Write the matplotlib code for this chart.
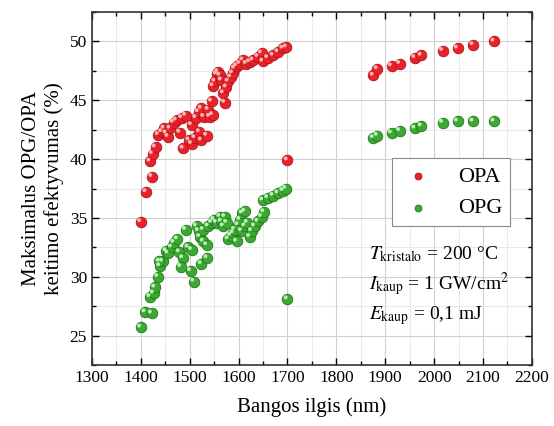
import numpy as np
import matplotlib
matplotlib.use('Agg')
import matplotlib.pyplot as plt
import matplotlib.ticker as ticker
from matplotlib.transforms import offset_copy

plt.rcParams['font.family'] = 'Liberation Serif'
plt.rcParams['mathtext.fontset'] = 'stix'

# OPA (red) points
opa_x = [1400, 1411, 1423, 1419, 1424, 1430, 1436, 1443, 1448, 1452, 1456, 1460, 1467, 1473,
         1484, 1492, 1480, 1487, 1504, 1499, 1504, 1511, 1513, 1518, 1524, 1520, 1524, 1535,
         1529, 1538, 1541, 1547, 1545, 1548, 1552, 1555, 1558, 1562, 1565, 1569, 1572, 1575,
         1579, 1584, 1588, 1592, 1596, 1603, 1609, 1616, 1623, 1630, 1640, 1647, 1650, 1660,
         1671, 1681, 1691, 1698, 1700,
         1876, 1884, 1913, 1930, 1961, 1974, 2018, 2048, 2080, 2123]
opa_y = [34.66, 37.2, 38.5, 39.8, 40.45, 41.0, 42.06, 42.3, 42.6, 42.2, 41.9, 42.6, 43.1, 43.3,
         43.5, 43.7, 42.25, 40.9, 42.9, 41.6, 41.3, 41.8, 43.5, 44.0, 44.3, 42.3, 41.6, 42.0,
         43.6, 44.2, 43.6, 43.75, 44.9, 46.2, 46.6, 47.2, 47.4, 47.1, 46.7, 45.6, 44.8, 46.1,
         46.6, 46.95, 47.3, 47.7, 47.9, 48.1, 48.4, 48.1, 48.25, 48.4, 48.7, 49.0, 48.3, 48.6,
         48.8, 49.1, 49.4, 49.5, 39.9,
         47.1, 47.65, 47.9, 48.1, 48.6, 48.8, 49.2, 49.4, 49.7, 50.0]

# OPG (green) points
opg_x = [1400, 1409, 1422, 1419, 1426, 1429, 1435, 1439, 1445, 1438, 1452, 1456, 1463, 1468,
         1475, 1479, 1486, 1482, 1492, 1497, 1504, 1502, 1509, 1514, 1518, 1521, 1528, 1535,
         1524, 1536, 1528, 1538, 1545, 1550, 1555, 1562, 1565, 1569, 1572, 1576, 1579, 1584,
         1589, 1592, 1596, 1599, 1603, 1608, 1613, 1606, 1613, 1618, 1623, 1627, 1633, 1640,
         1647, 1652, 1650, 1660, 1671, 1681, 1691, 1697, 1700,
         1876, 1884, 1913, 1930, 1961, 1974, 2018, 2048, 2080, 2123]
opg_y = [25.7, 27.0, 26.9, 28.3, 28.6, 29.1, 30.0, 30.9, 31.3, 31.3, 32.2, 32.0, 32.5, 32.9,
         33.2, 32.1, 31.6, 30.85, 34.0, 32.5, 32.3, 30.5, 29.6, 34.3, 33.9, 33.4, 33.0, 32.7,
         31.1, 31.6, 34.0, 34.3, 34.6, 34.85, 34.6, 35.1, 34.7, 34.3, 35.1, 34.6, 33.2, 33.5,
         33.7, 34.0, 33.0, 34.4, 34.85, 35.4, 35.55, 33.9, 34.3, 34.6, 33.4, 33.9, 34.3, 34.7,
         35.1, 35.5, 36.5, 36.7, 36.9, 37.1, 37.3, 37.5, 28.1,
         41.8, 42.0, 42.2, 42.4, 42.6, 42.8, 43.1, 43.2, 43.2, 43.2]

fig = plt.figure(figsize=(5.54, 4.26), dpi=100)
ax = fig.add_axes([0.166, 0.143, 0.794, 0.829])

hl = offset_copy(ax.transData, fig=fig, x=-1.3, y=1.3, units='points')

h_opa = ax.scatter(opa_x, opa_y, s=58, color='#e8222b', edgecolors='#b0141c',
                   linewidths=0.6, zorder=3, label='OPA')
ax.scatter(opa_x, opa_y, s=8, color='#ffb0b0', edgecolors='none', transform=hl, zorder=4)
h_opg = ax.scatter(opg_x, opg_y, s=58, color='#3aa832', edgecolors='#1f7a1a',
                   linewidths=0.6, zorder=3, label='OPG')
ax.scatter(opg_x, opg_y, s=8, color='#b8f0b0', edgecolors='none', transform=hl, zorder=4)

ax.set_xlim(1300, 2200)
ax.set_ylim(22.5, 52.5)
ax.xaxis.set_major_locator(ticker.MultipleLocator(100))
ax.xaxis.set_minor_locator(ticker.MultipleLocator(50))
ax.yaxis.set_major_locator(ticker.MultipleLocator(5))
ax.yaxis.set_minor_locator(ticker.MultipleLocator(2.5))
ax.tick_params(which='both', direction='in', top=True, right=True, labelsize=12.5, width=1)
ax.tick_params(which='major', length=5)
ax.tick_params(which='minor', length=3)
ax.grid(which='major', color='#d0d0d0', linewidth=0.8, zorder=0)
ax.grid(which='minor', color='#e6e6e6', linewidth=0.6, zorder=0)
ax.set_axisbelow(True)
for sp in ax.spines.values():
    sp.set_linewidth(1.2)
    sp.set_color('#333333')

ax.set_xlabel('Bangos ilgis (nm)', fontsize=15, labelpad=8)
ax.set_ylabel('Maksimalus OPG/OPA\nkeitimo efektyvumas (%)', fontsize=15, labelpad=4)

leg = ax.legend(handles=[h_opa, h_opg], loc='upper right', bbox_to_anchor=(0.95, 0.585),
                borderaxespad=0, fontsize=16, fancybox=False, edgecolor='#888888',
                framealpha=1, handletextpad=1.0, borderpad=0.35, markerscale=0.65,
                handlelength=1.6)
leg.get_frame().set_linewidth(0.8)

ax.text(0.63, 0.30, r'$T_{\rm kristalo}$ = 200 °C', transform=ax.transAxes, fontsize=14)
ax.text(0.63, 0.215, r'$I_{\rm kaup}$ = 1 GW/cm$^2$', transform=ax.transAxes, fontsize=14)
ax.text(0.63, 0.13, r'$E_{\rm kaup}$ = 0,1 mJ', transform=ax.transAxes, fontsize=14)

fig.savefig('out.png', dpi=100)
